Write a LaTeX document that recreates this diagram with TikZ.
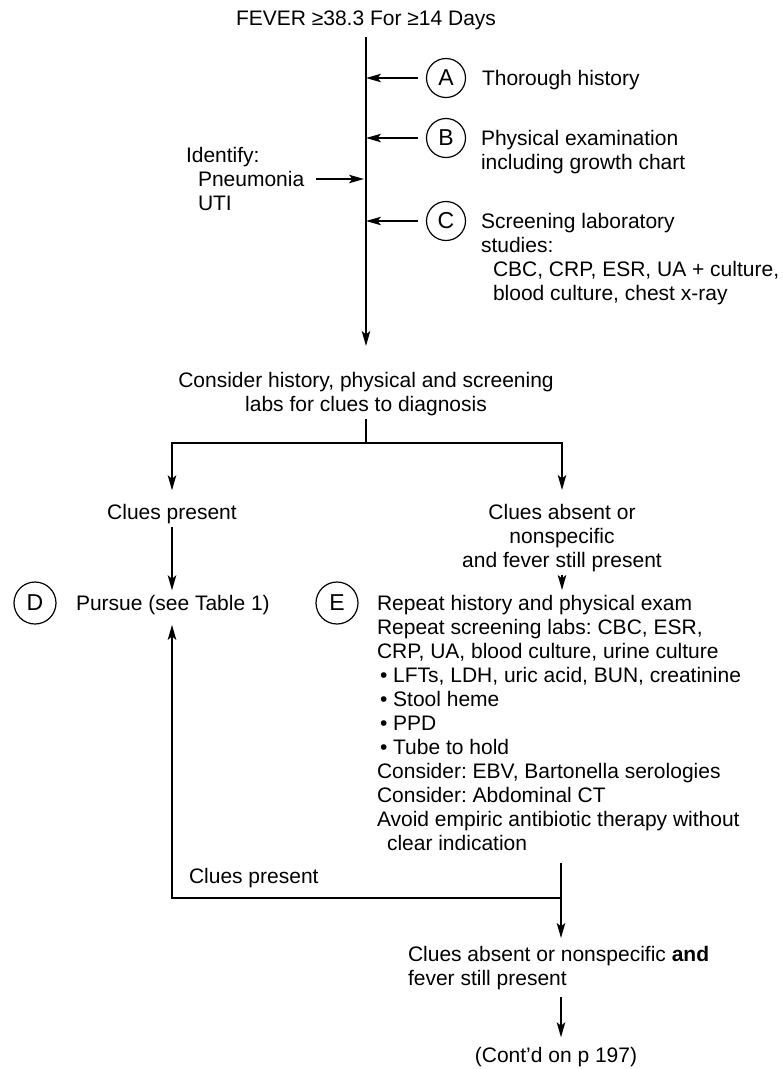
\documentclass[tikz,border=0pt]{standalone}
\usepackage{fontspec}
\setmainfont{Liberation Sans}
\usetikzlibrary{arrows.meta}
\frenchspacing
\begin{document}
\begin{tikzpicture}[x=1pt,y=-1pt,
  every node/.style={inner sep=0pt, outer sep=0pt, font=\fontsize{21}{24}\selectfont},
  txt/.style={anchor=north west, align=left},
  ctxt/.style={anchor=north, align=center},
  letter/.style={draw, circle, line width=1.2pt, minimum size=39pt, font=\fontsize{23}{24}\selectfont},
  bigletter/.style={letter, minimum size=42pt},
  flow/.style={line width=1.6pt},
  arr/.style={flow, -{Stealth[length=15pt,width=8.5pt,inset=3.5pt]}},
]
\useasboundingbox (0,0) rectangle (783,1069);

% title and the main column
\node[anchor=base] (title) at (366,25.5) {FEVER ≥38.3 For ≥14 Days};
\node[ctxt] (cons) at (366,370.7) {\strut Consider history, physical and screening\\labs for clues to diagnosis};
\draw[arr, shorten <=7pt, shorten >=24.7pt] (title.south) -- (title.south |- cons.north);

% steps A, B, C feeding the column
\node[letter] (A) at (446,78) {A};
\node[letter] (B) at (446,138) {B};
\node[letter] (C) at (446,221) {C};
\node[anchor=base west] (At) at (482,85.5) {Thorough history};
\node[txt] (Bt) at (481,128.7) {\strut Physical examination\\including growth chart};
\node[txt] (Ct) at (481,211.7) {\strut Screening laboratory\\studies:\\\hspace*{12pt}CBC, CRP, ESR, UA + culture,\\\hspace*{12pt}blood culture, chest x-ray};
\draw[arr, shorten <=9pt] (A) -- (A -| title.south);
\draw[arr, shorten <=9pt] (B) -- (B -| title.south);
\draw[arr, shorten <=9pt] (C) -- (C -| title.south);

% items to identify
\node[txt] (ident) at (186,145.7) {\strut Identify:\\\hspace*{12pt}Pneumonia\\\hspace*{12pt}UTI};
\coordinate (pn) at (316,179);
\draw[arr] (pn) -- ([xshift=-2pt]pn -| title.south);

% first branching
\coordinate (j) at (366,443);
\node[anchor=base] (cp) at (172,519.5) {Clues present};
\node[ctxt] (ca) at (562,502.7) {\strut Clues absent or\\nonspecific\\and fever still present};
\draw[flow, shorten <=3pt] (cons.south) -- (j);
\draw[arr, shorten >=14pt] (j) -| (cp.north);
\draw[arr, shorten >=12.7pt] (j) -| (ca.north);

% D and E
\node[bigletter] (D) at (35,603) {D};
\node[anchor=base west] (pu) at (76,610.5) {Pursue (see Table 1)};
\node[bigletter] (E) at (337,603) {E};
\node[txt] (et) at (377,593.7) {\strut Repeat history and physical exam\\
Repeat screening labs: CBC, ESR,\\
CRP, UA, blood culture, urine culture\\
\hspace*{3pt}• LFTs, LDH, uric acid, BUN, creatinine\\
\hspace*{3pt}• Stool heme\\
\hspace*{3pt}• PPD\\
\hspace*{3pt}• Tube to hold\\
Consider: EBV, Bartonella serologies\\
Consider: Abdominal CT\\
Avoid empiric antibiotic therapy without\\
\hspace*{10pt}clear indication};
\draw[arr, shorten <=3pt, shorten >=5pt] (cp.south) -- (cp.south |- pu.north);
\draw[arr, shorten <=3pt, shorten >=3.7pt] (ca.south) -- (ca.south |- et.north);

% loop back and continuation
\coordinate (k0) at (561,863);
\coordinate (k) at (561,898);
\node[anchor=base west] (cp2) at (189,883.5) {Clues present};
\node[txt] (fin) at (408,944.7) {\strut Clues absent or nonspecific \textbf{and}\\fever still present};
\node[anchor=base] (cont) at (556,1062.5) {(Cont’d on p 197)};
\draw[arr, shorten >=6.7pt] (k0) -- (k0 |- fin.north);
\draw[arr, shorten >=10pt] (k) -| (cp.south |- pu.south);
\draw[arr, shorten <=7pt, shorten >=10pt] (k0 |- fin.south) -- (k0 |- cont.north);
\end{tikzpicture}
\end{document}
